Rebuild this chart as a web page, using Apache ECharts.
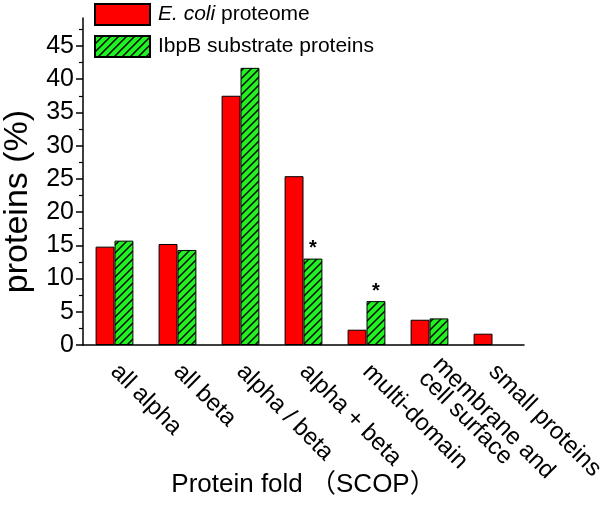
<!DOCTYPE html>
<html>
<head>
<meta charset="utf-8">
<script src="https://cdn.jsdelivr.net/npm/echarts@6/dist/echarts.min.js"></script>
<style>
  html, body { margin: 0; padding: 0; background: #fff; }
  #chart { width: 611px; height: 507px; }
</style>
</head>
<body>
<div id="chart"></div>
<script>
const folds = ['all alpha', 'all beta', 'alpha / beta', 'alpha + beta', 'multi-domain', 'membrane and\ncell surface', 'small proteins'];
const ecoliProteome = [14.8, 15.2, 37.5, 25.4, 2.3, 3.8, 1.7];
const ibpbSubstrates = [15.7, 14.3, 41.7, 13.0, 6.6, 4.0, null];
const significant = [false, false, false, true, true, false, false];
const majorTicks = [0, 5, 10, 15, 20, 25, 30, 35, 40, 45];
const minorTicks = [2.5, 7.5, 12.5, 17.5, 22.5, 27.5, 32.5, 37.5, 42.5, 47.5];

// green fill with black "/" hatching
function hatch() {
  const c = document.createElement('canvas');
  c.width = 8; c.height = 8;
  const g = c.getContext('2d');
  g.fillStyle = '#22f022';
  g.fillRect(0, 0, 8, 8);
  g.strokeStyle = '#000';
  g.lineWidth = 1.4;
  g.beginPath();
  g.moveTo(-2, 10); g.lineTo(10, -2);
  g.moveTo(-2, 2); g.lineTo(2, -2);
  g.moveTo(6, 10); g.lineTo(10, 6);
  g.stroke();
  return { image: c, repeat: 'repeat' };
}

const font = "'Liberation Sans', Arial, 'Noto Sans CJK SC', sans-serif";
const chart = echarts.init(document.getElementById('chart'));

const yBase = {
  type: 'value',
  min: 0,
  max: 49.2,
  position: 'left',
  splitLine: { show: false }
};

chart.setOption({
  animation: false,
  textStyle: { fontFamily: font, color: '#000' },
  legend: {
    orient: 'vertical',
    left: 94,
    top: 3,
    padding: 0,
    itemWidth: 55,
    itemHeight: 21,
    itemGap: 9,
    icon: 'rect',
    textStyle: {
      fontSize: 21,
      color: '#000',
      padding: [0, 0, 0, 3],
      rich: { i: { fontSize: 21, fontStyle: 'italic', color: '#000' } }
    },
    formatter: name => name === 'E. coli proteome' ? '{i|E. coli} proteome' : name
  },
  grid: { left: 83, right: 87, top: 18, bottom: 162, containLabel: false, outerBoundsMode: 'none' },
  xAxis: [
    {
      type: 'category',
      data: folds,
      axisLine: { lineStyle: { color: '#000', width: 1.5 } },
      axisTick: { alignWithLabel: true, length: 6, lineStyle: { color: '#000', width: 1.5 } },
      axisLabel: { rotate: -45, fontSize: 24, color: '#000', margin: 23, interval: 0, lineHeight: 20 },
      name: 'Protein fold （SCOP）',
      nameLocation: 'middle',
      nameGap: 127,
      nameMoveOverlap: false,
      nameTextStyle: { fontSize: 26, color: '#000' }
    },
    {
      type: 'category',
      data: folds,
      position: 'bottom',
      axisLine: { show: false },
      axisTick: { inside: true, length: 5, lineStyle: { color: '#000', width: 1.5 } },
      axisLabel: { show: false }
    }
  ],
  yAxis: [
    Object.assign({}, yBase, {
      axisLine: { show: true, lineStyle: { color: '#000', width: 1.5 } },
      axisTick: { show: true, length: 7, customValues: majorTicks, lineStyle: { color: '#000', width: 1.5 } },
      axisLabel: { fontSize: 25, color: '#000', margin: 9, customValues: majorTicks },
      name: 'proteins (%)',
      nameLocation: 'middle',
      nameRotate: 90,
      nameGap: 48,
      nameMoveOverlap: false,
      nameTextStyle: { fontSize: 34, color: '#000', padding: [0, 40, 0, 0] }
    }),
    Object.assign({}, yBase, {
      axisLine: { show: false },
      axisTick: { show: true, length: 4, customValues: minorTicks, lineStyle: { color: '#000', width: 1.2 } },
      axisLabel: { show: false }
    })
  ],
  series: [
    {
      name: 'E. coli proteome',
      type: 'bar',
      data: ecoliProteome,
      barGap: '0%',
      barCategoryGap: '40%',
      itemStyle: { color: '#ff0000', borderColor: '#000', borderWidth: 1 }
    },
    {
      name: 'IbpB substrate proteins',
      type: 'bar',
      data: ibpbSubstrates.map((v, i) => ({
        value: v,
        label: { show: significant[i], position: 'top', formatter: '*', fontSize: 20, fontWeight: 'bold', distance: 0, color: '#000' }
      })),
      barGap: '0%',
      barCategoryGap: '40%',
      itemStyle: { color: hatch(), borderColor: '#000', borderWidth: 1 }
    }
  ]
});
</script>
</body>
</html>
